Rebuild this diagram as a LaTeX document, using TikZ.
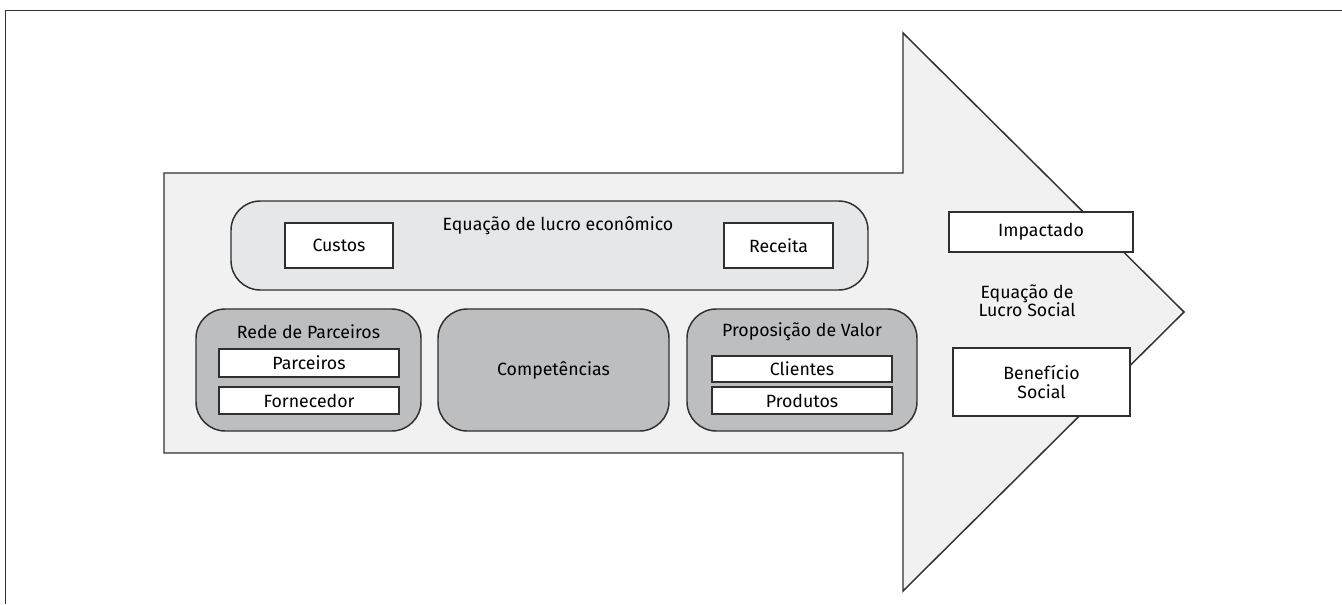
\documentclass[tikz,border=0pt]{standalone}
\usepackage{fontspec}
\setmainfont{Fira Sans}
\definecolor{arrowfill}{HTML}{F1F1F1}
\definecolor{topfill}{HTML}{E6E7E8}
\definecolor{grayfill}{HTML}{BDBEC0}
\definecolor{linec}{HTML}{303030}
\newcommand{\lblfont}{\fontsize{13.3}{15}\selectfont}
\newcommand{\twolinefont}{\fontsize{13.3}{13.6}\selectfont}
\tikzset{
  lbl/.style={font=\lblfont, text=black, inner sep=0pt, align=center},
  whitebox/.style={draw=linec, line width=1pt, fill=white, inner sep=0pt, font=\lblfont, align=center},
  roundbox/.style={draw=linec, line width=1.1pt, rounded corners=22pt, inner sep=0pt},
}
\begin{document}
\begin{tikzpicture}[x=0.75pt,y=-0.75pt]
\useasboundingbox (0,0) rectangle (1342,604);
\fill[white] (0,0) rectangle (1342,604);
% frame
\draw[linec, line width=1.3pt] (5.5,604) -- (5.5,10.5) -- (1342,10.5);
% arrow
\draw[linec, line width=1.1pt, fill=arrowfill, line join=miter]
  (164,173) -- (903,173) -- (903,33) -- (1184,312) -- (903,591) -- (903,453) -- (164,453) -- cycle;
% economic profit equation
\node[roundbox, fill=topfill, minimum width=637*0.75pt, minimum height=89*0.75pt] (eq) at (549.5,245.5) {};
\node[lbl] (eqt) at (558,226) {Equação de lucro econômico};
\node[whitebox, minimum width=108*0.75pt, minimum height=45*0.75pt] (custos) at (339,245.5) {Custos};
\node[whitebox, minimum width=109*0.75pt, minimum height=45*0.75pt] (receita) at (778.5,245.5) {Receita};
% rede de parceiros
\node[roundbox, fill=grayfill, minimum width=225*0.75pt, minimum height=122*0.75pt] (rede) at (308.5,370) {};
\node[lbl] (redet) at (308.5,332) {Rede de Parceiros};
\node[whitebox, minimum width=180*0.75pt, minimum height=28*0.75pt] (parc) at (309,363) {Parceiros};
\node[whitebox, minimum width=180*0.75pt, minimum height=27*0.75pt] (forn) at (309,400.5) {Fornecedor};
% competencias
\node[roundbox, fill=grayfill, minimum width=231*0.75pt, minimum height=122*0.75pt, font=\lblfont] (comp) at (553.5,370) {Competências};
% proposicao de valor
\node[roundbox, fill=grayfill, minimum width=230*0.75pt, minimum height=122*0.75pt] (prop) at (802,370) {};
\node[lbl] (propt) at (802,332) {Proposição de Valor};
\node[whitebox, minimum width=180*0.75pt, minimum height=26*0.75pt] (cli) at (802,369) {Clientes};
\node[whitebox, minimum width=180*0.75pt, minimum height=27*0.75pt] (prod) at (802,400.5) {Produtos};
% social
\node[whitebox, minimum width=184*0.75pt, minimum height=40*0.75pt] (imp) at (1041,232) {Impactado};
\node[lbl, font=\twolinefont] (soc) at (1027,301) {Equação de\\Lucro Social};
\node[whitebox, minimum width=177*0.75pt, minimum height=68*0.75pt, font=\twolinefont] (ben) at (1041.5,382) {Benefício\\Social};
\end{tikzpicture}
\end{document}
